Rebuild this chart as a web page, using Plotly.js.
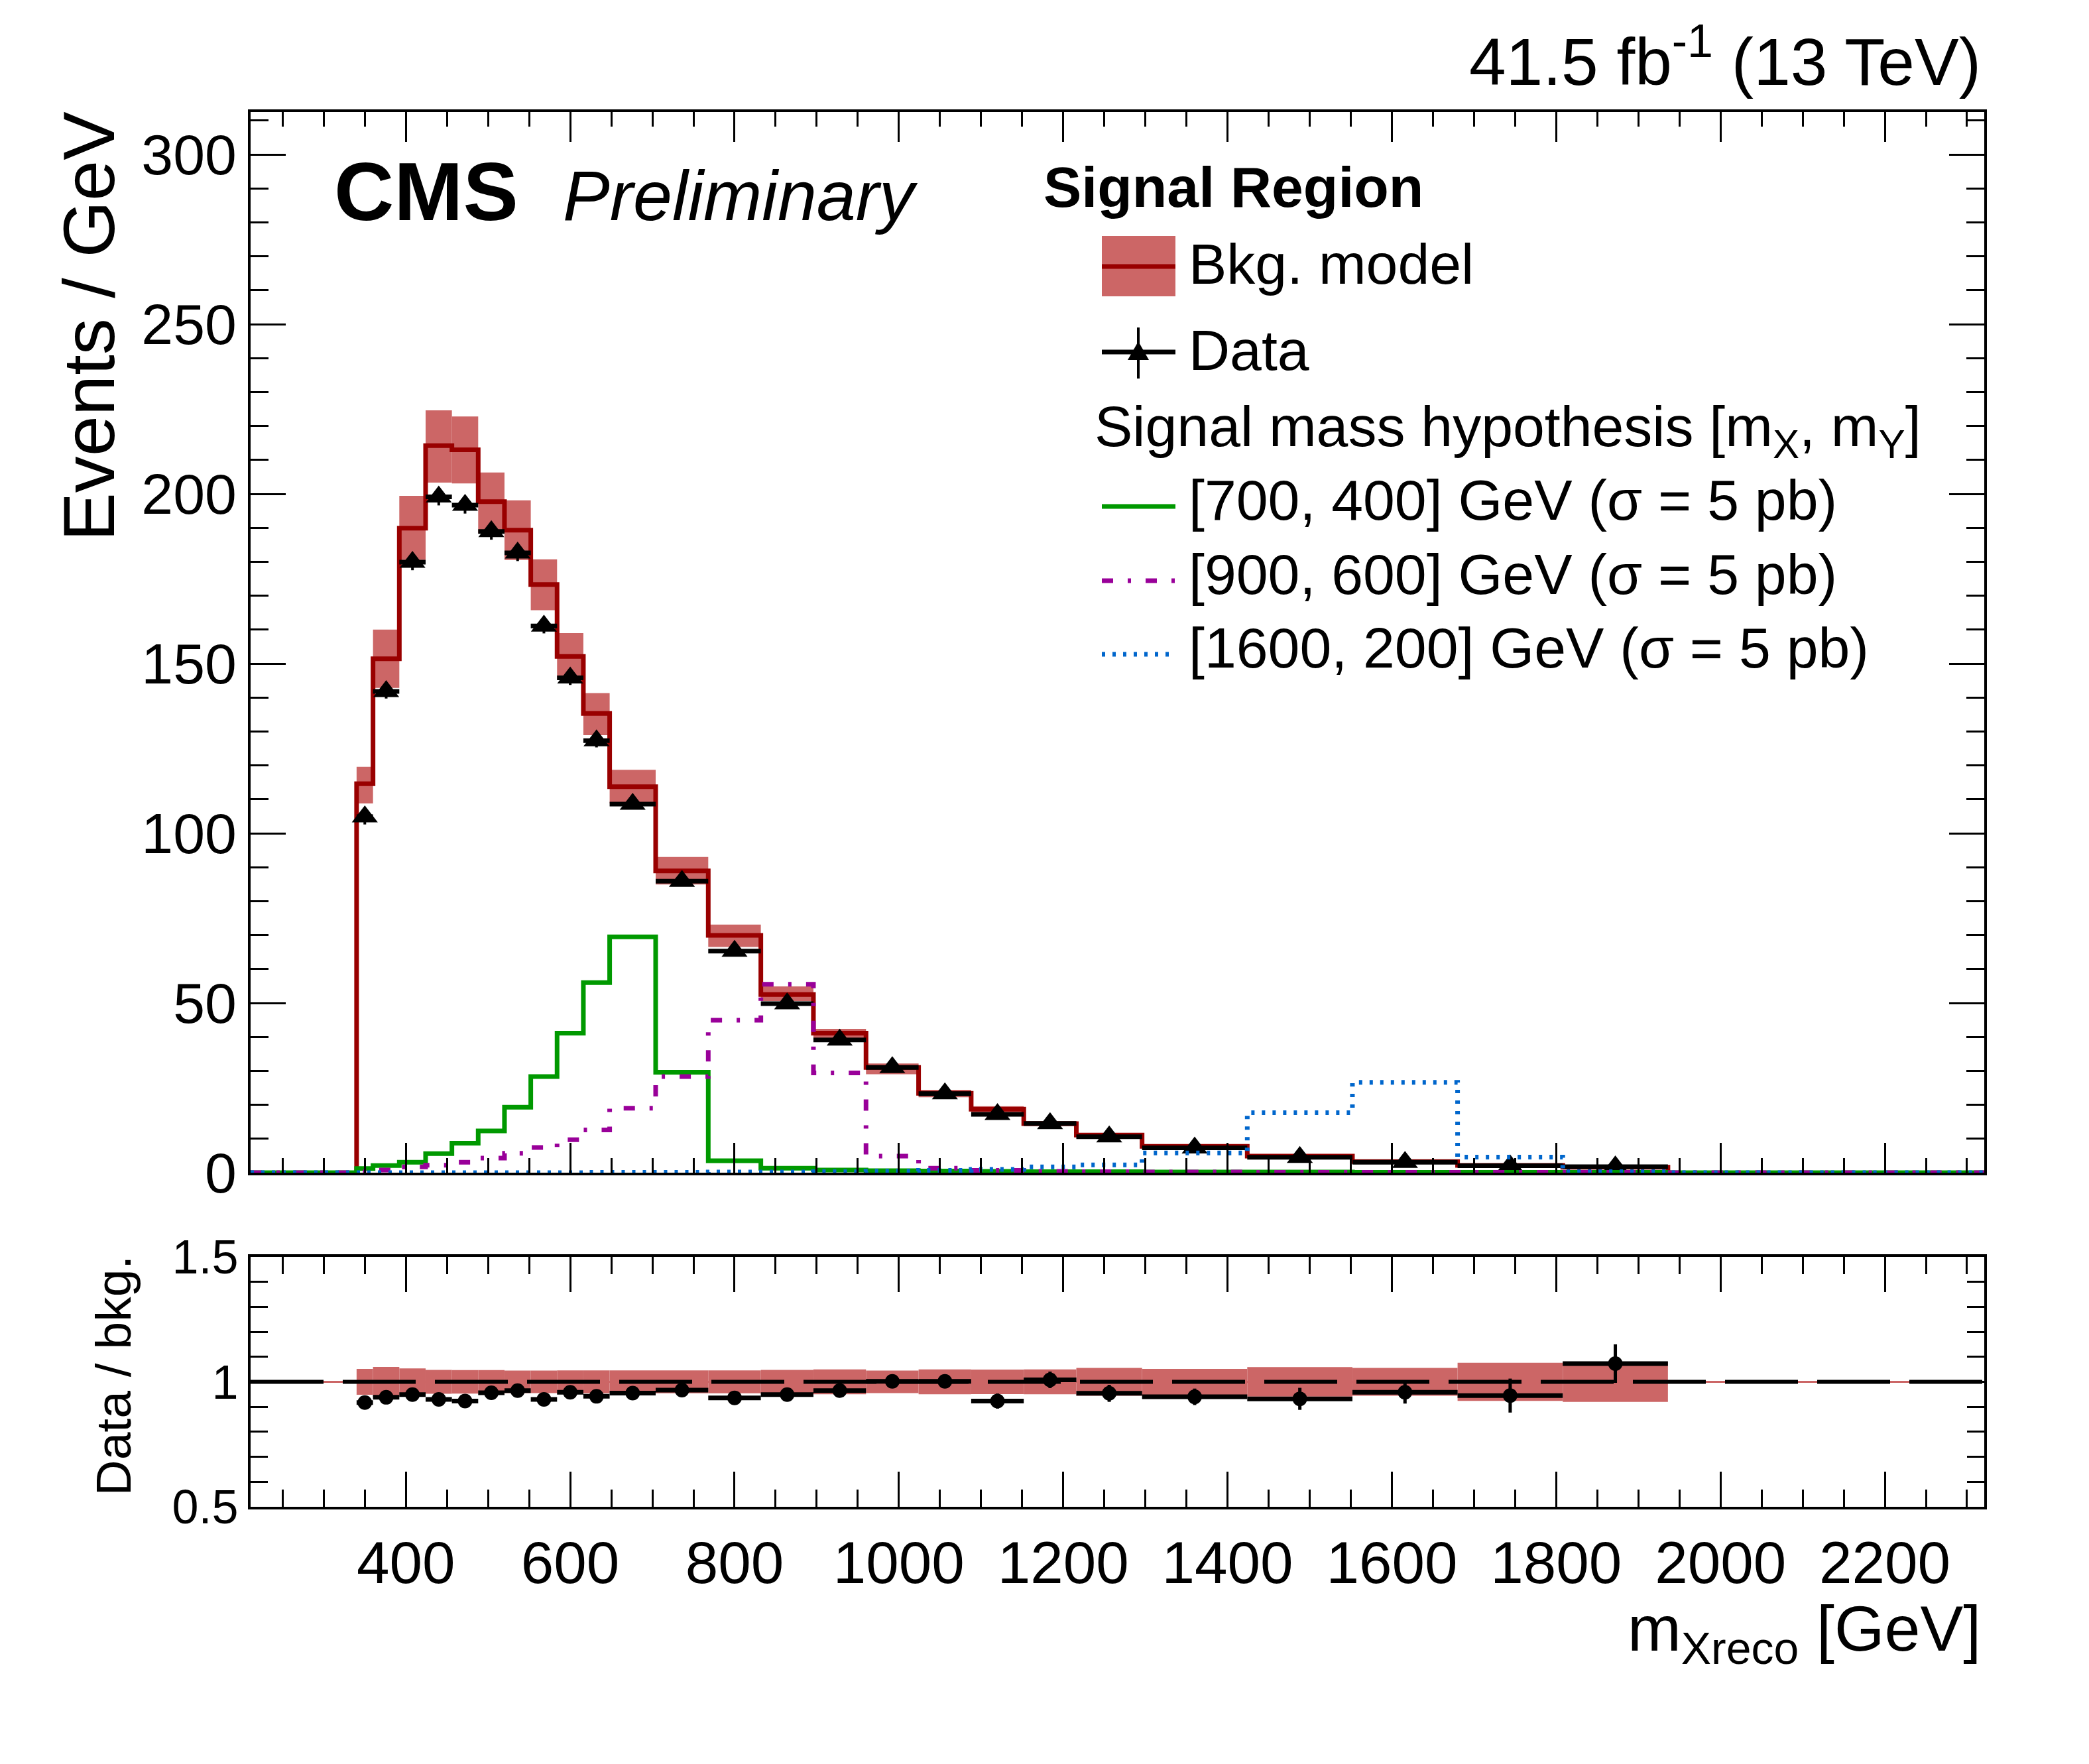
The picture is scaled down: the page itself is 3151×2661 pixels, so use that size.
<!DOCTYPE html>
<html>
<head>
<meta charset="utf-8">
<script src="https://cdn.plot.ly/plotly-3.0.1.min.js"></script>
<style>html,body{margin:0;padding:0;background:#fff;}#plot{width:3151px;height:2661px;}</style>
</head>
<body>
<div id="plot"></div>
<script>
// ---------------- data ----------------
const X_MIN = 211, X_MAX = 2321;
const EDGES = [340,360,392,424,456,488,520,552,584,616,648,704,768,832,896,960,1024,1088,1152,1216,1296,1424,1552,1680,1808,1936];
const BKG      = [114.6,151.4,189.9,214.2,213.0,197.7,189.3,173.3,152.1,135.3,113.7,88.9,69.9,52.5,41.1,31.0,23.4,18.7,14.45,11.07,7.75,4.88,3.25,2.15,1.6];
const BKG_UP   = [119.6,160.0,199.4,224.6,222.8,206.3,198.1,180.7,159.0,141.3,118.7,93.0,73.1,54.9,42.4,32.2,24.4,19.6,15.2,11.7,8.15,5.15,3.45,2.3,1.75];
const BKG_DN   = [108.8,142.8,180.5,203.3,203.1,188.4,180.5,165.7,145.2,128.9,108.8,84.9,66.5,50.6,39.1,29.0,22.2,17.8,13.7,10.4,7.35,4.6,3.05,2.0,1.48];
const DATA     = [104.9,141.8,179.9,199.1,196.7,188.9,182.6,161.1,145.8,127.3,108.6,85.9,65.3,49.8,39.1,31.0,23.3,17.2,14.5,10.6,7.3,4.55,3.1,2.05,1.75];
const DATA_ERR = [2.3,2.1,2.4,2.5,2.5,2.4,2.4,2.2,2.1,2.0,1.4,1.16,1.0,0.88,0.78,0.69,0.6,0.51,0.47,0.36,0.24,0.18,0.15,0.12,0.12];
const SIG_700_400  = [1.2,2.1,3.1,5.6,8.7,12.3,19.3,28.3,41.1,56.0,69.5,29.6,3.5,1.3,0.8,0.6,0.5,0.4,0.3,0.3,0.2,0.2,0.1,0.1,0.1];
const SIG_900_600  = [0.3,0.8,1.7,2.2,3.1,4.3,5.7,7.4,9.7,12.6,19.0,28.3,44.9,55.5,29.4,4.9,1.3,0.7,0.4,0.3,0.2,0.1,0.1,0.1,0.1];
const SIG_1600_200 = [0,0,0,0,0,0,0,0,0,0.1,0.1,0.1,0.2,0.2,0.3,0.45,0.7,1.0,1.7,2.3,5.8,17.7,26.6,4.6,0.3];
const RATIO     = [0.917,0.938,0.949,0.930,0.923,0.956,0.965,0.930,0.958,0.942,0.955,0.967,0.936,0.949,0.965,1.002,1.002,0.923,1.008,0.954,0.940,0.932,0.958,0.945,1.073];
const RATIO_ERR = [0.02,0.014,0.013,0.012,0.012,0.012,0.013,0.013,0.014,0.015,0.013,0.013,0.015,0.017,0.019,0.022,0.026,0.03,0.033,0.034,0.033,0.044,0.045,0.068,0.077];
const BAND_HW   = [0.052,0.060,0.054,0.048,0.047,0.047,0.045,0.045,0.046,0.046,0.046,0.046,0.046,0.048,0.050,0.045,0.050,0.049,0.050,0.056,0.052,0.059,0.056,0.076,0.080];
const Y_TICKS_MAIN = [0,50,100,150,200,250,300];
const X_TICKS = [400,600,800,1000,1200,1400,1600,1800,2000,2200];
const LEGEND_LABELS = ['Bkg. model','Data','Signal mass hypothesis [m<sub>X</sub>, m<sub>Y</sub>]',
  '[700, 400] GeV (σ = 5 pb)','[900, 600] GeV (σ = 5 pb)','[1600, 200] GeV (σ = 5 pb)'];

// ---------------- styling ----------------
const FONT = 'Liberation Sans, Arial, Helvetica, sans-serif';
const C_BAND = '#CC6666', C_BKG = '#990000', C_GREEN = '#009900', C_PURPLE = '#990099', C_BLUE = '#0066CC';
const DASH_PURPLE = '17px,22px,5px,22px';
const DASH_BLUE = '5px,11px';

const W = 3151, H = 2661, ML = 378, MR = 158, MT = 169, MB = 388;
const PW = W - ML - MR, PH = H - MT - MB;
const P = x => (x - ML) / PW;          // pixel -> paper x
const Q = y => (H - MB - y) / PH;      // pixel -> paper y

const centers = [], halfw = [], widths = [];
for (let i = 0; i < EDGES.length - 1; i++) {
  centers.push((EDGES[i] + EDGES[i+1]) / 2);
  widths.push(EDGES[i+1] - EDGES[i]);
  halfw.push((EDGES[i+1] - EDGES[i]) / 2);
}
const sigX = [X_MIN].concat(EDGES, [X_MAX]);
const sigY = v => [0].concat(v, [0, 0]);

const traces = [
  { type:'bar', x:centers, width:widths, base:BKG_DN, y:BKG_UP.map((u,i)=>u-BKG_DN[i]),
    marker:{color:C_BAND, line:{width:0}}, xaxis:'x', yaxis:'y', hoverinfo:'skip' },
  { type:'scatter', mode:'lines', x:[EDGES[0]].concat(EDGES), y:[0].concat(BKG,[0]),
    line:{shape:'hv', color:C_BKG, width:7}, xaxis:'x', yaxis:'y' },
  { type:'scatter', mode:'markers', x:centers, y:DATA,
    marker:{symbol:'triangle-up', size:34, color:'black', line:{width:0}},
    error_x:{type:'data', array:halfw, symmetric:true, width:0, thickness:7, color:'black'},
    error_y:{type:'data', array:DATA_ERR, symmetric:true, width:0, thickness:4, color:'black'},
    xaxis:'x', yaxis:'y' },
  { type:'scatter', mode:'lines', x:sigX, y:sigY(SIG_700_400),
    line:{shape:'hv', color:C_GREEN, width:7}, xaxis:'x', yaxis:'y' },
  { type:'scatter', mode:'lines', x:sigX, y:sigY(SIG_900_600),
    line:{shape:'hv', color:C_PURPLE, width:7, dash:DASH_PURPLE}, xaxis:'x', yaxis:'y' },
  { type:'scatter', mode:'lines', x:sigX, y:sigY(SIG_1600_200),
    line:{shape:'hv', color:C_BLUE, width:7, dash:DASH_BLUE}, xaxis:'x', yaxis:'y' },
  // ratio panel
  { type:'bar', x:centers, width:widths, base:BAND_HW.map(h=>1-h), y:BAND_HW.map(h=>2*h),
    marker:{color:C_BAND, line:{width:0}}, xaxis:'x2', yaxis:'y2', hoverinfo:'skip' },
  { type:'scatter', mode:'lines', x:[X_MIN, X_MAX], y:[1,1],
    line:{color:C_BAND, width:3}, xaxis:'x2', yaxis:'y2' },
  { type:'scatter', mode:'lines', x:[X_MIN, X_MAX], y:[1,1],
    line:{color:'black', width:6, dash:'110px,29px'}, xaxis:'x2', yaxis:'y2' },
  { type:'scatter', mode:'markers', x:centers, y:RATIO,
    marker:{symbol:'circle', size:22, color:'black', line:{width:0}},
    error_x:{type:'data', array:halfw, symmetric:true, width:0, thickness:7, color:'black'},
    error_y:{type:'data', array:RATIO_ERR, symmetric:true, width:0, thickness:5, color:'black'},
    xaxis:'x2', yaxis:'y2' }
];

const axisCommon = {
  showline:true, linewidth:4, linecolor:'black', mirror:'allticks',
  ticks:'inside', tickwidth:3, tickcolor:'black', showgrid:false, zeroline:false,
  automargin:false
};
const ratioBottom = 0, ratioTop = (H - MB - 1896) / PH;
const mainBottom = (H - MB - 1769) / PH;

const layout = {
  width:W, height:H, paper_bgcolor:'white', plot_bgcolor:'white', showlegend:false,
  barmode:'overlay', margin:{l:ML, r:MR, t:MT, b:MB, pad:0},
  font:{family:FONT, color:'black'},
  xaxis: Object.assign({}, axisCommon, {
    domain:[0,1], anchor:'y', range:[X_MIN, X_MAX], tickmode:'array', tickvals:X_TICKS,
    showticklabels:false, ticklen:45,
    minor:{ticks:'inside', ticklen:22, tickwidth:3, tickcolor:'black', dtick:50, tick0:0}
  }),
  yaxis: Object.assign({}, axisCommon, {
    domain:[mainBottom, 1], anchor:'x', range:[0, 312.5], tickmode:'array', tickvals:Y_TICKS_MAIN,
    ticklen:53, tickfont:{size:86, family:FONT}, ticklabelstandoff:0,
    minor:{ticks:'inside', ticklen:27, tickwidth:3, tickcolor:'black', dtick:10, tick0:0}
  }),
  xaxis2: Object.assign({}, axisCommon, {
    domain:[0,1], anchor:'y2', range:[X_MIN, X_MAX], tickmode:'array', tickvals:X_TICKS,
    ticklen:53, tickfont:{size:89, family:FONT}, ticklabelstandoff:4,
    minor:{ticks:'inside', ticklen:26, tickwidth:3, tickcolor:'black', dtick:50, tick0:0}
  }),
  yaxis2: Object.assign({}, axisCommon, {
    domain:[ratioBottom, ratioTop], anchor:'x2', range:[0.5, 1.5], tickmode:'array', tickvals:[0.5,1,1.5],
    ticktext:['0.5','1','1.5'], ticklen:53, tickfont:{size:72, family:FONT}, ticklabelstandoff:0,
    minor:{ticks:'inside', ticklen:26, tickwidth:3, tickcolor:'black', dtick:0.1, tick0:0}
  }),
  annotations: [],
  shapes: []
};

function txt(text, x, y, size, opts) {
  layout.annotations.push(Object.assign({
    text:text, x:P(x), y:Q(y), xref:'paper', yref:'paper', showarrow:false,
    xanchor:'left', yanchor:'bottom', font:{size:size, family:FONT, color:'black'}
  }, opts || {}));
}
// baseline helpers: bottom anchor at baseline + descent
const bl = (b, s) => b + 0.212 * s + 1;
txt('<b>CMS</b>', 502, bl(333,125), 125);
txt('<i>Preliminary</i>', 847, bl(333,106), 106);
txt('41.5 fb<sup>-1</sup> (13 TeV)', 2990, bl(129,100), 100, {xanchor:'right'});
txt('<b>Signal Region</b>', 1572, bl(313,86), 86);
txt(LEGEND_LABELS[0], 1791, bl(429,86), 86);
txt(LEGEND_LABELS[1], 1791, bl(559,86), 86);
txt(LEGEND_LABELS[2], 1649, 672 - 0.905*86 - 1, 86, {yanchor:'top'});
txt(LEGEND_LABELS[3], 1791, bl(785,86), 86);
txt(LEGEND_LABELS[4], 1791, bl(897,86), 86);
txt(LEGEND_LABELS[5], 1791, bl(1008,86), 86);
txt('m<sub>Xreco</sub> [GeV]', 2990, 2489 - 0.905*97 - 1, 97, {xanchor:'right', yanchor:'top'});
txt('Events / GeV', 196, 166, 110, {xanchor:'right', yanchor:'top', textangle:-90});
txt('Data / bkg.', 214, 1892, 75, {xanchor:'right', yanchor:'top', textangle:-90});

function hline(x0, x1, y, color, width, dash) {
  layout.shapes.push({type:'line', xref:'paper', yref:'paper', x0:P(x0), x1:P(x1), y0:Q(y), y1:Q(y),
    line:{color:color, width:width, dash:dash || 'solid'}});
}
// legend symbols
layout.shapes.push({type:'rect', xref:'paper', yref:'paper', x0:P(1662), x1:P(1773), y0:Q(447), y1:Q(356),
  fillcolor:C_BAND, line:{width:0}});
hline(1662, 1773, 402, C_BKG, 7);
hline(1662, 1773, 531, 'black', 7);
layout.shapes.push({type:'line', xref:'paper', yref:'paper', x0:P(1717), x1:P(1717), y0:Q(494), y1:Q(571),
  line:{color:'black', width:4}});
layout.shapes.push({type:'path', xref:'paper', yref:'paper',
  path:`M ${P(1717)},${Q(515)} L ${P(1701)},${Q(543)} L ${P(1733)},${Q(543)} Z`,
  fillcolor:'black', line:{width:0}});
hline(1662, 1773, 764, C_GREEN, 7);
hline(1662, 1773, 876, C_PURPLE, 7, DASH_PURPLE);
hline(1662, 1773, 987, C_BLUE, 7, DASH_BLUE);

Plotly.newPlot('plot', traces, layout, {staticPlot:true, displayModeBar:false});
</script>
</body>
</html>
